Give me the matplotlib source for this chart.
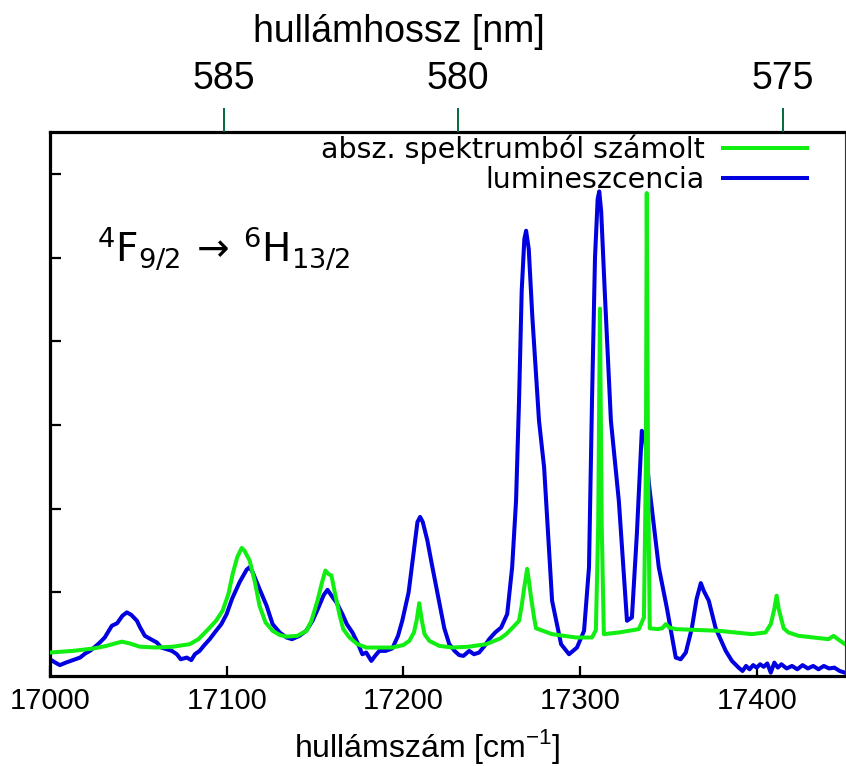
import matplotlib
matplotlib.use("Agg")
import matplotlib.pyplot as plt

# lumineszcencia (kék)
lum_x = [17000, 17003, 17005.6, 17009, 17013, 17017, 17020, 17022.6, 17025, 17028.2,
         17031, 17035, 17038, 17041, 17043.5, 17046, 17049.2, 17051, 17053.7, 17057,
         17060.5, 17063, 17066.1, 17069, 17071.8, 17074, 17077.4, 17080, 17082, 17084.7,
         17087, 17090.4, 17094, 17097, 17100, 17103, 17107.3, 17111.3, 17113, 17114.7,
         17118.6, 17122.6, 17126, 17130, 17133.9, 17137, 17141.2, 17145, 17148.6, 17152,
         17155, 17157.1, 17160, 17162.1, 17165.5, 17168, 17171.2, 17174, 17176.8, 17179,
         17181.9, 17184, 17186.4, 17190, 17193.8, 17197, 17199.4, 17203, 17206, 17208,
         17209.5, 17211, 17213.6, 17216, 17220.3, 17223.2, 17226, 17229, 17231.6, 17234,
         17237.3, 17240, 17242.9, 17246, 17248.6, 17252, 17255.4, 17258.8, 17261.6, 17263.8,
         17265.5, 17267, 17268.5, 17269.5, 17271, 17273, 17276.8, 17279.7, 17284.2, 17289.3,
         17293.8, 17298.3, 17302.3, 17305.1, 17306.8, 17308.5, 17310, 17310.9, 17312, 17314,
         17317.5, 17322, 17326.6, 17329.4, 17332.2, 17335, 17337, 17339, 17344.6, 17349.2,
         17354.2, 17357, 17359.9, 17363.3, 17366, 17368.4, 17370, 17372.9, 17376.8, 17382.5,
         17386, 17389.8, 17392, 17394, 17396, 17398, 17400, 17402, 17404, 17406,
         17408, 17410, 17412, 17414, 17417, 17420, 17423, 17426, 17429, 17432,
         17435, 17438, 17441, 17444, 17447, 17450]
lum_y = [0.20, 0.16, 0.13, 0.16, 0.19, 0.22, 0.27, 0.30, 0.34, 0.40,
         0.46, 0.60, 0.63, 0.72, 0.76, 0.73, 0.66, 0.58, 0.48, 0.44,
         0.40, 0.34, 0.32, 0.30, 0.26, 0.20, 0.22, 0.19, 0.26, 0.30,
         0.36, 0.44, 0.54, 0.62, 0.74, 0.92, 1.12, 1.27, 1.30, 1.24,
         1.04, 0.84, 0.62, 0.52, 0.46, 0.44, 0.48, 0.54, 0.66, 0.82,
         0.97, 1.03, 0.94, 0.88, 0.74, 0.62, 0.52, 0.40, 0.26, 0.28,
         0.18, 0.24, 0.30, 0.30, 0.33, 0.48, 0.66, 1.00, 1.50, 1.84,
         1.90, 1.84, 1.62, 1.35, 0.88, 0.57, 0.38, 0.30, 0.25, 0.24,
         0.30, 0.26, 0.28, 0.36, 0.44, 0.52, 0.58, 0.74, 1.30, 2.09,
         3.29, 4.60, 5.22, 5.32, 5.10, 4.30, 3.05, 2.49, 0.90, 0.38,
         0.26, 0.34, 0.54, 1.30, 3.29, 5.00, 5.70, 5.79, 5.55, 4.60,
         3.05, 2.09, 0.66, 0.70, 1.70, 2.93, 2.80, 2.30, 1.30, 0.81,
         0.22, 0.20, 0.28, 0.57, 0.92, 1.11, 1.02, 0.90, 0.57, 0.30,
         0.18, 0.10, 0.06, 0.12, 0.08, 0.13, 0.10, 0.14, 0.11, 0.15,
         0.04, 0.16, 0.10, 0.14, 0.09, 0.12, 0.08, 0.13, 0.09, 0.12,
         0.08, 0.12, 0.09, 0.10, 0.06, 0.04]

# abszorpciós spektrumból számolt (zöld)
abs_x = [17000, 17013, 17025, 17032, 17037, 17040.7, 17045, 17050.8, 17060, 17069.5,
         17079.1, 17084, 17088.7, 17094, 17097.7, 17101, 17103.4, 17106, 17108.5, 17110,
         17113, 17116, 17118.6, 17122, 17126, 17130, 17133.9, 17140, 17145.2, 17148,
         17151.4, 17154, 17155.9, 17157.5, 17159.3, 17161, 17163.8, 17166, 17169.5, 17174,
         17179.1, 17193.8, 17200, 17203.4, 17206, 17207.5, 17209, 17210.5, 17212, 17214.7,
         17220.3, 17227.7, 17237, 17246.9, 17255, 17258.2, 17262, 17265.5, 17267, 17268.4,
         17270.1, 17271, 17272.3, 17274, 17275.1, 17284.2, 17297.7, 17306.8, 17309.0, 17310.3,
         17311.3, 17312.3, 17313.5, 17322, 17333.3, 17336.2, 17337.3, 17337.8, 17338.5, 17339.5,
         17344, 17346.5, 17348.6, 17350.5, 17354.2, 17378.5, 17397.2, 17405, 17408, 17410,
         17411.3, 17412.5, 17415.3, 17418, 17423.7, 17440.7, 17443.5, 17446, 17450]
abs_y = [0.28, 0.30, 0.33, 0.36, 0.39, 0.41, 0.39, 0.35, 0.34, 0.35,
         0.38, 0.44, 0.54, 0.66, 0.78, 0.98, 1.22, 1.42, 1.53, 1.50,
         1.38, 1.12, 0.84, 0.64, 0.54, 0.49, 0.47, 0.48, 0.54, 0.66,
         0.90, 1.12, 1.26, 1.22, 1.20, 1.02, 0.74, 0.56, 0.46, 0.38,
         0.34, 0.34, 0.37, 0.42, 0.52, 0.66, 0.87, 0.66, 0.50, 0.42,
         0.36, 0.34, 0.35, 0.38, 0.45, 0.50, 0.58, 0.66, 0.84, 1.05,
         1.28, 1.15, 0.94, 0.70, 0.57, 0.50, 0.46, 0.46, 0.55, 1.80,
         4.39, 1.80, 0.50, 0.52, 0.56, 0.70, 2.50, 5.77, 2.50, 0.57,
         0.56, 0.57, 0.62, 0.58, 0.56, 0.54, 0.50, 0.52, 0.62, 0.80,
         0.96, 0.80, 0.57, 0.52, 0.48, 0.44, 0.48, 0.44, 0.38]

x_ticks = [17000, 17100, 17200, 17300, 17400]
y_ticks = [1, 2, 3, 4, 5, 6]
nm_labels = ['585', '580', '575']
nm_pos = [17098.3, 17231.1, 17414.7]

fig = plt.figure(figsize=(8.46, 7.66), dpi=100)
ax = fig.add_axes([0.0591, 0.1175, 0.9397, 0.7102])

ax.plot(abs_x, abs_y, color='#11ee11', lw=2.9, label='absz. spektrumból számolt', zorder=3)
ax.plot(lum_x, lum_y, color='#0000e0', lw=2.9, label='lumineszcencia', zorder=2)

ax.set_xlim(17000, 17450)
ax.set_ylim(0, 6.5)
ax.set_xticks(x_ticks)
ax.set_yticks(y_ticks)
ax.set_yticklabels([])
ax.tick_params(axis='x', direction='in', length=7, width=1.6, pad=8,
               labelsize=21, labelfontfamily='Liberation Sans')
ax.tick_params(axis='y', direction='in', length=8, width=1.6)
ax.set_xlabel('hullámszám [cm$^{\\mathregular{-1}}$]', fontsize=23,
              family='Liberation Sans')
ax.xaxis.set_label_coords(0.475, -0.093)

for s in ['left', 'top', 'bottom']:
    ax.spines[s].set_linewidth(2.3)
ax.spines['right'].set_linewidth(0.8)
ax.spines['right'].set_color('#333333')

ax2 = ax.twiny()
ax2.set_xlim(ax.get_xlim())
ax2.set_xticks(nm_pos)
ax2.set_xticklabels(nm_labels, fontsize=27, family='Liberation Sans')
ax2.tick_params(axis='x', direction='out', length=17, width=1.4, color='#006a3a', pad=8)
ax2.set_xlabel('hullámhossz [nm]', fontsize=27, family='Liberation Sans')
ax2.xaxis.set_label_coords(0.439, 1.165)

for s in ax2.spines.values():
    s.set_visible(False)

ax.text(0.059, 0.761,
        r'$^{4}\mathregular{F}_{\mathregular{9/2}}\,\rightarrow\,{}^{6}\mathregular{H}_{\mathregular{13/2}}$',
        transform=ax.transAxes, fontsize=28, va='baseline', ha='left')

ax.legend(loc='upper right', bbox_to_anchor=(0.956, 1.0), frameon=False,
          markerfirst=False, fontsize=20.5, handlelength=2.95, handletextpad=0.65,
          labelspacing=0.05, borderaxespad=0, borderpad=0.1)

fig.savefig('out.png', dpi=100)
